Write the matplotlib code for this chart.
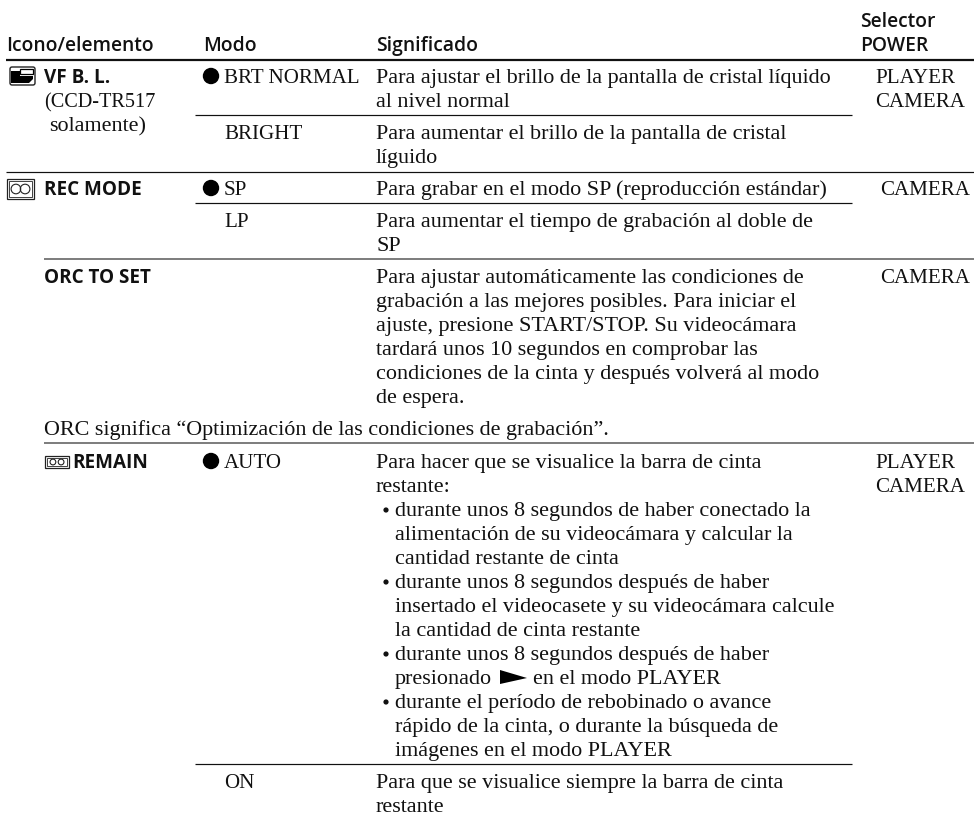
import matplotlib
matplotlib.use("Agg")
import matplotlib.pyplot as plt
from matplotlib.patches import Circle, Rectangle, Polygon, FancyBboxPatch

SERIF = "Liberation Serif"
SANS = "Open Sans"

# text is (x, baseline y) in image pixels
headers = [(6, 51, "Icono/elemento"), (203, 51, "Modo"), (376, 51, "Significado"),
           (860, 27, "Selector"), (860, 51, "POWER")]
items = [(44, 83, "VF B. L."), (44, 195, "REC MODE"), (44, 283, "ORC TO SET"), (72, 468, "REMAIN")]
item_notes = [(44, 107, "(CCD-TR517"), (49, 131, "solamente)")]
modes = [(224, 83, "BRT NORMAL"), (224, 139, "BRIGHT"), (224, 195, "SP"), (224, 227, "LP"),
         (224, 468, "AUTO"), (224, 788, "ON")]
default_dots = [(211, 76), (211, 188), (211, 461)]
meanings = [
    (376, 83, "Para ajustar el brillo de la pantalla de cristal líquido"),
    (376, 107, "al nivel normal"),
    (376, 139, "Para aumentar el brillo de la pantalla de cristal"),
    (376, 163, "líguido"),
    (376, 195, "Para grabar en el modo SP (reproducción estándar)"),
    (376, 227, "Para aumentar el tiempo de grabación al doble de"),
    (376, 251, "SP"),
    (376, 283, "Para ajustar automáticamente las condiciones de"),
    (376, 307, "grabación a las mejores posibles. Para iniciar el"),
    (376, 331, "ajuste, presione START/STOP. Su videocámara"),
    (376, 355, "tardará unos 10 segundos en comprobar las"),
    (376, 379, "condiciones de la cinta y después volverá al modo"),
    (376, 403, "de espera."),
    (44, 435, "ORC significa “Optimización de las condiciones de grabación”."),
    (376, 468, "Para hacer que se visualice la barra de cinta"),
    (376, 492, "restante:"),
    (395, 516, "durante unos 8 segundos de haber conectado la"),
    (395, 540, "alimentación de su videocámara y calcular la"),
    (395, 564, "cantidad restante de cinta"),
    (395, 588, "durante unos 8 segundos después de haber"),
    (395, 612, "insertado el videocasete y su videocámara calcule"),
    (395, 636, "la cantidad de cinta restante"),
    (395, 660, "durante unos 8 segundos después de haber"),
    (395, 684, "presionado"),
    (533, 684, "en el modo PLAYER"),
    (395, 708, "durante el período de rebobinado o avance"),
    (395, 732, "rápido de la cinta, o durante la búsqueda de"),
    (395, 756, "imágenes en el modo PLAYER"),
    (376, 788, "Para que se visualice siempre la barra de cinta"),
    (376, 812, "restante"),
]
bullets_y = [516, 588, 660, 708]
power = [(875, 83, "PLAYER"), (875, 107, "CAMERA"), (880, 195, "CAMERA"), (880, 283, "CAMERA"),
         (875, 468, "PLAYER"), (875, 492, "CAMERA")]
# x0, x1, y, width in px, colour
rules = [(6, 974, 60, 2.2, "#111111"), (195, 852, 115, 1.2, "#111111"), (6, 974, 172, 1.2, "#111111"),
         (195, 852, 203, 1.2, "#111111"), (44, 974, 259, 1.5, "#555555"), (44, 974, 443, 1.5, "#555555"),
         (195, 852, 764, 1.2, "#111111")]

def cassette(ax, x, y, w, h):
    ax.add_patch(Rectangle((x, y), w, h, fill=False, ec="#222222", lw=0.9))
    ax.add_patch(Rectangle((x + 2, y + 2), w - 4, h - 4, fill=False, ec="#222222", lw=0.6))
    for cx in (x + w * 0.33, x + w * 0.67):
        ax.add_patch(Circle((cx, y + h / 2), h * 0.24, fill=False, ec="#222222", lw=0.8))

fig = plt.figure(figsize=(9.74, 8.18), dpi=100)
ax = fig.add_axes([0, 0, 1, 1])
ax.set_xlim(0, 974)
ax.set_ylim(818, 0)
ax.axis("off")

for x0, x1, y, lw, color in rules:
    ax.plot([x0, x1], [y, y], color=color, lw=lw * 0.72, solid_capstyle="butt")

for x, y, s in headers:
    ax.text(x, y, s, family=SANS, weight=600, fontsize=13.9, color="#111111", va="baseline")
for x, y, s in items:
    ax.text(x, y, s, family=SANS, weight=700, fontsize=13.6, color="#111111", va="baseline")
for x, y, s in meanings:
    ax.text(x, y, s, family=SERIF, fontsize=15.95, color="#111111", va="baseline")
for x, y, s in modes + power:
    ax.text(x, y, s, family=SERIF, fontsize=15.1, color="#111111", va="baseline")
ax.text(*item_notes[0][:2], item_notes[0][2], family=SERIF, fontsize=14.6, color="#111111", va="baseline")
ax.text(*item_notes[1][:2], item_notes[1][2], family=SERIF, fontsize=15.95, color="#111111", va="baseline")

for x, y in default_dots:
    ax.add_patch(Circle((x, y), 8.2, color="black", lw=0))
for y in bullets_y:
    ax.add_patch(Circle((386, y - 6), 2.6, color="#111111", lw=0))

# play arrow in the third bullet
ax.add_patch(Polygon([(500, 670), (527, 678), (500, 684)], closed=True, color="black", lw=0))

# camera icon
ax.add_patch(FancyBboxPatch((10, 67), 25, 18, boxstyle="round,pad=0,rounding_size=2", fill=False, ec="#222222", lw=1.0))
ax.add_patch(Polygon([(11, 71), (20, 71), (20, 76), (33, 76), (33, 79), (29, 83), (11, 83)], closed=True, color="black", lw=0))
ax.add_patch(Rectangle((20, 69), 13, 5, fill=False, ec="black", lw=0.9))

cassette(ax, 7, 179, 27, 20)
cassette(ax, 45, 456, 24, 12)

fig.savefig("out.png", dpi=100)
